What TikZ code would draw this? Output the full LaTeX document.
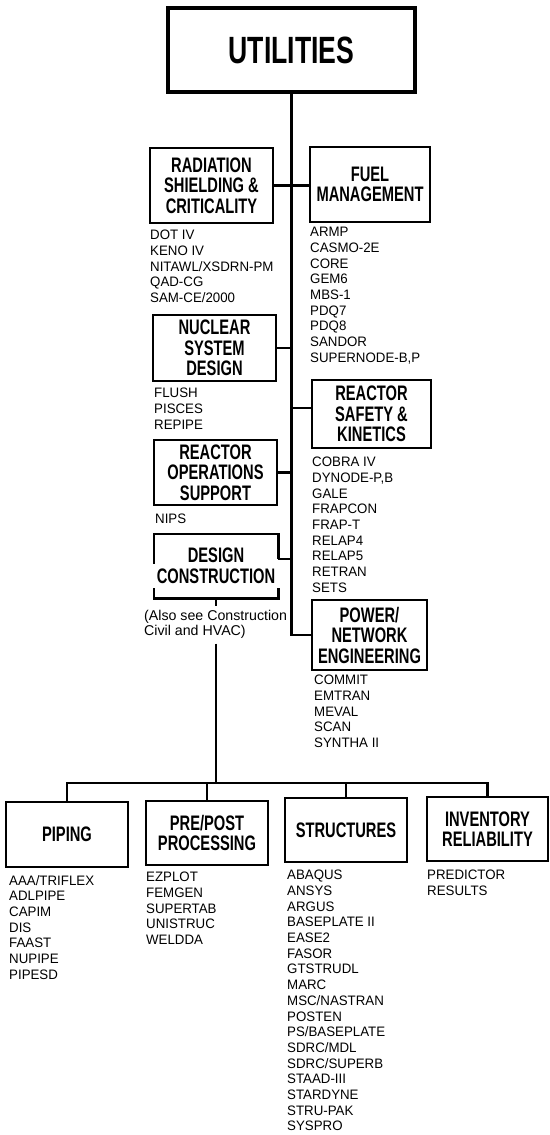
\documentclass[tikz,border=0pt]{standalone}
\usepackage{fontspec}
\setmainfont{Liberation Sans}
\newfontfamily\titlefont[FakeStretch=0.70]{Liberation Sans Bold}
\newfontfamily\listfont[FakeStretch=0.97]{Liberation Sans}
\newfontfamily\notefont{Liberation Sans}
\tikzset{
  box/.style={draw, line width=2.5pt, inner sep=0pt, align=center,
    font=\titlefont\fontsize{21}{20.5}\selectfont},
  boxline/.style={line width=2.5pt},
  link/.style={line width=2.2pt},
  list/.style={anchor=north west, inner sep=0pt, align=left,
    font=\listfont\fontsize{13.7}{15.7}\selectfont}
}
\begin{document}
\begin{tikzpicture}[x=1pt,y=-1pt]
\useasboundingbox (0,0) rectangle (549,1135);
\fill[white] (0,0) rectangle (549,1135);
% boxes
\node[box, line width=3.3pt, minimum width=247pt, minimum height=84pt,
  font=\titlefont\fontsize{38}{40}\selectfont] (util) at (291.5,50) {UTILITIES};
\node[box, minimum width=123pt, minimum height=75pt] (rad) at (211.5,185.5) {RADIATION\\SHIELDING \&\\CRITICALITY};
\node[box, minimum width=120pt, minimum height=75pt] (fuel) at (370,184.5) {FUEL\\MANAGEMENT};
\node[box, minimum width=123pt, minimum height=66pt] (nuc) at (214.5,348) {NUCLEAR\\SYSTEM\\DESIGN};
\node[box, minimum width=119pt, minimum height=68pt] (rs) at (371.5,414) {REACTOR\\SAFETY \&\\KINETICS};
\node[box, minimum width=123pt, minimum height=65pt] (ops) at (215.5,472.5) {REACTOR\\OPERATIONS\\SUPPORT};
\node[box, draw=none, minimum width=122pt, minimum height=62pt] (dc) at (216,566) {DESIGN\\CONSTRUCTION};
\node[box, minimum width=115pt, minimum height=70pt] (pw) at (369.5,635) {POWER/\\NETWORK\\ENGINEERING};
\node[box, minimum width=122pt, minimum height=65pt] (pip) at (67,834.5) {PIPING};
\node[box, minimum width=122pt, minimum height=64pt] (pp) at (207,833) {PRE/POST\\PROCESSING};
\node[box, minimum width=122pt, minimum height=64pt] (st) at (346,830) {STRUCTURES};
\node[box, minimum width=121pt, minimum height=64pt] (inv) at (487.5,829) {INVENTORY\\RELIABILITY};
% lists
\node[list] (radl) at (150,230) {DOT IV\\KENO IV\\NITAWL/XSDRN-PM\\QAD-CG\\SAM-CE/2000};
\node[list] (fuell) at (310,227) {ARMP\\CASMO-2E\\CORE\\GEM6\\MBS-1\\PDQ7\\PDQ8\\SANDOR\\SUPERNODE-B,P};
\node[list] (nucl) at (154,388) {FLUSH\\PISCES\\REPIPE};
\node[list] (rsl) at (312,457) {COBRA IV\\DYNODE-P,B\\GALE\\FRAPCON\\FRAP-T\\RELAP4\\RELAP5\\RETRAN\\SETS};
\node[list] (opsl) at (155,514) {NIPS};
\node[list, font=\notefont\fontsize{14.2}{15}\selectfont] (note) at (144,610) {(Also see Construction\\Civil and HVAC)};
\node[list] (pwl) at (314,675) {COMMIT\\EMTRAN\\MEVAL\\SCAN\\SYNTHA II};
\node[list] (pipl) at (9,875) {AAA/TRIFLEX\\ADLPIPE\\CAPIM\\DIS\\FAAST\\NUPIPE\\PIPESD};
\node[list] (ppl) at (146,872) {EZPLOT\\FEMGEN\\SUPERTAB\\UNISTRUC\\WELDDA};
\node[list] (stl) at (287,870) {ABAQUS\\ANSYS\\ARGUS\\BASEPLATE II\\EASE2\\FASOR\\GTSTRUDL\\MARC\\MSC/NASTRAN\\POSTEN\\PS/BASEPLATE\\SDRC/MDL\\SDRC/SUPERB\\STAAD-III\\STARDYNE\\STRU-PAK\\SYSPRO};
\node[list] (invl) at (427,870) {PREDICTOR\\RESULTS};
% trunk and connectors
\coordinate (tkb) at (util.south |- pw.west);
\draw[link] (util.south) -- (tkb) -- (pw.west);
\draw[link] (rad.east) -- (rad.east -| fuel.west);
\draw[link] (nuc.east) -- (nuc.east -| util.south);
\coordinate (rsj) at ([yshift=6pt]rs.west);
\draw[link] (rsj -| util.south) -- (rsj);
\draw[link] (ops.east) -- (ops.east -| util.south);
% design construction broken outline
\coordinate (dcj) at ([yshift=-25pt]dc.north east);
\draw[boxline] ([yshift=-30pt]dc.north west) -- (dc.north west) -- (dc.north east) -- (dcj);
\draw[link] (dcj) -- (dcj -| util.south);
\draw[boxline] ([yshift=10pt]dc.south west) -- (dc.south west) -- (dc.south east) -- ([yshift=10pt]dc.south east);
\draw[link] (dc.south) -- ++(0,8);
\coordinate (bus) at (dc.south |- 0,783);
\coordinate (ls) at (dc.south |- note.south);
\draw[link] ([yshift=-5pt]ls) -- (bus);
\draw[link] (pip.north) -- (pip.north |- bus) -- (inv.north |- bus) -- (inv.north);
\draw[link] (pp.north) -- (pp.north |- bus);
\draw[link] (st.north) -- (st.north |- bus);
\end{tikzpicture}
\end{document}
